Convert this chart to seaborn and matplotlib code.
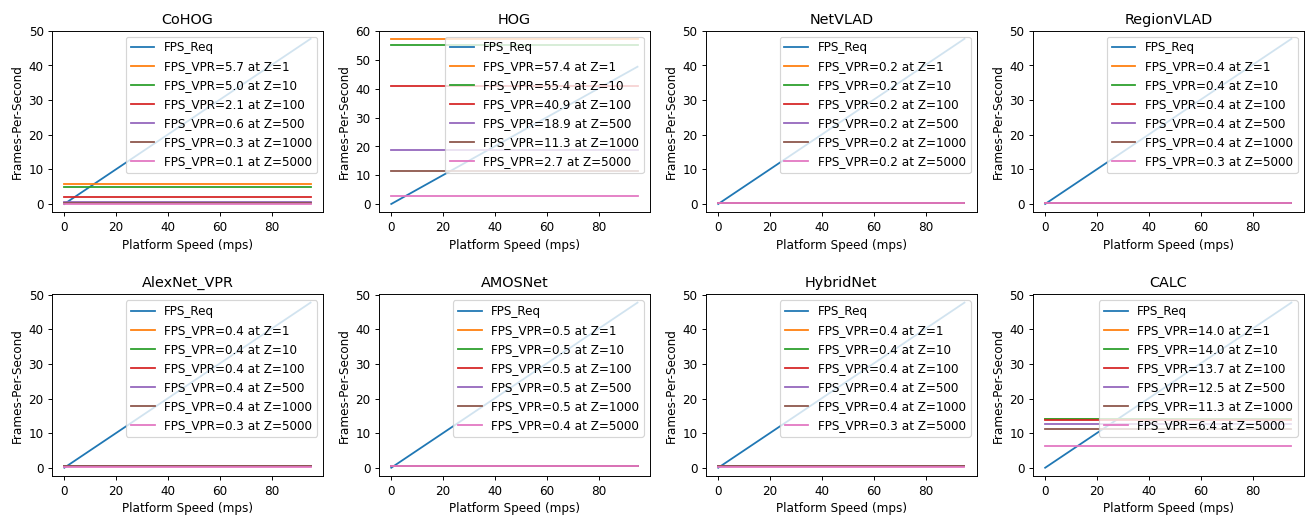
import matplotlib
matplotlib.use("Agg")
import matplotlib.pyplot as plt
import seaborn as sns

methods = ["CoHOG", "HOG", "NetVLAD", "RegionVLAD",
           "AlexNet_VPR", "AMOSNet", "HybridNet", "CALC"]
zoom_levels = [1, 10, 100, 500, 1000, 5000]

fps_cohog = [5.7, 5.0, 2.1, 0.6, 0.3, 0.1]
fps_hog = [57.4, 55.4, 40.9, 18.9, 11.3, 2.7]
fps_netvlad = [0.2, 0.2, 0.2, 0.2, 0.2, 0.2]
fps_regionvlad = [0.4, 0.4, 0.4, 0.4, 0.4, 0.3]
fps_alexnet = [0.4, 0.4, 0.4, 0.4, 0.4, 0.3]
fps_amosnet = [0.5, 0.5, 0.5, 0.5, 0.5, 0.4]
fps_hybridnet = [0.4, 0.4, 0.4, 0.4, 0.4, 0.3]
fps_calc = [14.0, 14.0, 13.7, 12.5, 11.3, 6.4]

speed_range = [0, 95]
fps_req = [0, 47.7]

all_fps = [fps_cohog, fps_hog, fps_netvlad, fps_regionvlad,
           fps_alexnet, fps_amosnet, fps_hybridnet, fps_calc]

palette = sns.color_palette("tab10")

fig, axes = plt.subplots(2, 4, figsize=(15.19, 5.99), dpi=86)
for ax, name, fps in zip(axes.flat, methods, all_fps):
    sns.lineplot(x=speed_range, y=fps_req, ax=ax, color=palette[0],
                 label="FPS_Req")
    for i, (z, v) in enumerate(zip(zoom_levels, fps)):
        sns.lineplot(x=speed_range, y=[v, v], ax=ax, color=palette[i + 1],
                     label=f"FPS_VPR={v:.1f} at Z={z}")
    ax.set_title(name)
    ax.set_xlabel("Platform Speed (mps)")
    ax.set_ylabel("Frames-Per-Second")
    ax.set_xticks([0, 20, 40, 60, 80])
    ax.legend(loc="upper right")

fig.subplots_adjust(left=0.0398, right=0.998, top=0.9404, bottom=0.0757,
                    wspace=0.207, hspace=0.452)
fig.savefig("out.png", dpi=86)
